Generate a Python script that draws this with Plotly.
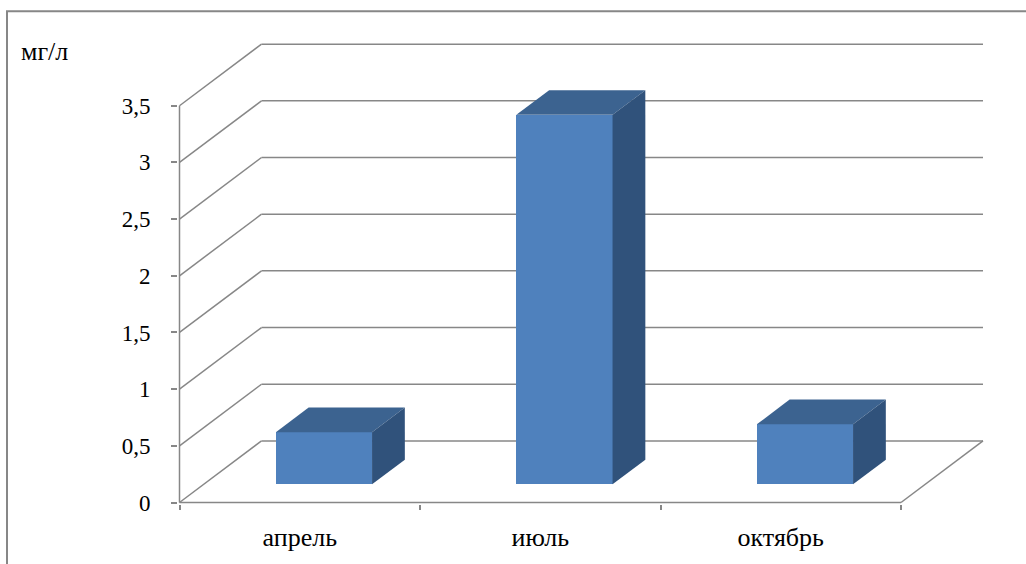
import plotly.graph_objects as go

# Mean concentration by month, mg/l
months = ["апрель", "июль", "октябрь"]
values = [0.46, 3.26, 0.53]
y_ticks = [0, 0.5, 1, 1.5, 2, 2.5, 3, 3.5]
unit_label = "мг/л"

# Page and plot-area geometry (pixels)
W, H = 1026, 564
L, R, T, B = 178, 985, 43, 507
PAD = 1.5             # front axes sit this far inside the plot area
PX_X = 240.5          # pixels per category slot
PX_Y = 114.1          # pixels per mg/l

# Oblique projection of the depth axis (full wall depth)
DEPTH_X = 82 / PX_X
DEPTH_Y = 62 / PX_Y
# Bars occupy this slice of the depth
D0, D1 = 0.295, 0.695
BAR_W = 0.4

x_range = [-PAD / PX_X, (R - L - PAD) / PX_X]
y_range = [-PAD / PX_Y, (B - T - PAD) / PX_Y]

GRID = "#878787"
FRONT = "#4F81BD"
TOP = "#3C6390"
SIDE = "#30527B"
FONT = "Times New Roman, Liberation Serif, DejaVu Serif, serif"
TICK_SIZE = 23
LABEL_SIZE = 26

n = len(months)
y_top = y_ticks[-1]


def paper_x(px):
    return (px - L) / (R - L)


def paper_y(py):
    return (B - py) / (B - T)


shapes = []


def seg(x0, y0, x1, y1):
    shapes.append(dict(type="line", xref="x", yref="y", x0=x0, y0=y0, x1=x1, y1=y1,
                       line=dict(color=GRID, width=1.5), layer="below"))


# left wall diagonals and back wall gridlines
for v in y_ticks:
    seg(0, v, DEPTH_X, v + DEPTH_Y)
    seg(DEPTH_X, v + DEPTH_Y, n + DEPTH_X, v + DEPTH_Y)
# floor front edge, right floor edge, front value axis
seg(0, 0, n, 0)
seg(n, 0, n + DEPTH_X, DEPTH_Y)
seg(0, 0, 0, y_top)

# outer chart frame
shapes.append(dict(type="rect", xref="paper", yref="paper",
                   x0=paper_x(7), x1=paper_x(W + 20), y0=paper_y(H + 20), y1=paper_y(11),
                   line=dict(color=GRID, width=2), fillcolor="rgba(0,0,0,0)", layer="below"))

fig = go.Figure()

centers = [i + 0.5 for i in range(n)]
base = D0 * DEPTH_Y
bdx = (D1 - D0) * DEPTH_X
bdy = (D1 - D0) * DEPTH_Y

# front faces
fig.add_trace(go.Bar(
    x=[c + D0 * DEPTH_X for c in centers], y=values, base=[base] * n,
    width=BAR_W, marker=dict(color=FRONT, line=dict(width=0)),
    hoverinfo="skip", showlegend=False,
))

# top and side faces
for c, v in zip(centers, values):
    xl = c + D0 * DEPTH_X - BAR_W / 2
    xr = xl + BAR_W
    top = base + v
    fig.add_trace(go.Scatter(
        x=[xl, xr, xr + bdx, xl + bdx, xl], y=[top, top, top + bdy, top + bdy, top],
        mode="lines", fill="toself", fillcolor=TOP, line=dict(width=0, color=TOP),
        hoverinfo="skip", showlegend=False,
    ))
    fig.add_trace(go.Scatter(
        x=[xr, xr + bdx, xr + bdx, xr, xr], y=[base, base + bdy, top + bdy, top, base],
        mode="lines", fill="toself", fillcolor=SIDE, line=dict(width=0, color=SIDE),
        hoverinfo="skip", showlegend=False,
    ))

fig.update_layout(
    width=W, height=H,
    margin=dict(l=L, r=W - R, t=T, b=H - B, pad=0),
    paper_bgcolor="white", plot_bgcolor="white",
    separators=", ",
    font=dict(family=FONT, size=TICK_SIZE, color="black"),
    shapes=shapes,
    bargap=0,
    annotations=[dict(text=unit_label, xref="paper", yref="paper",
                      x=paper_x(44), y=paper_y(52), xanchor="center", yanchor="middle",
                      showarrow=False, font=dict(family=FONT, size=LABEL_SIZE, color="black"))],
)
fig.update_xaxes(
    range=x_range, showgrid=False, zeroline=False, showline=False,
    tickmode="array", tickvals=centers, ticktext=months, ticks="", ticklabelstandoff=15,
    tickfont=dict(family=FONT, size=LABEL_SIZE, color="black"),
    minor=dict(tickmode="array", tickvals=list(range(n + 1)), ticks="outside",
               ticklen=5, tickwidth=1.5, tickcolor=GRID, showgrid=False),
)
fig.update_yaxes(
    range=y_range, showgrid=False, zeroline=False, showline=False,
    tickmode="array", tickvals=y_ticks, ticks="outside", ticklen=6, tickwidth=1.5,
    tickcolor=GRID, ticklabelstandoff=16,
    tickfont=dict(family=FONT, size=TICK_SIZE, color="black"),
)

fig.write_html("out.html")
